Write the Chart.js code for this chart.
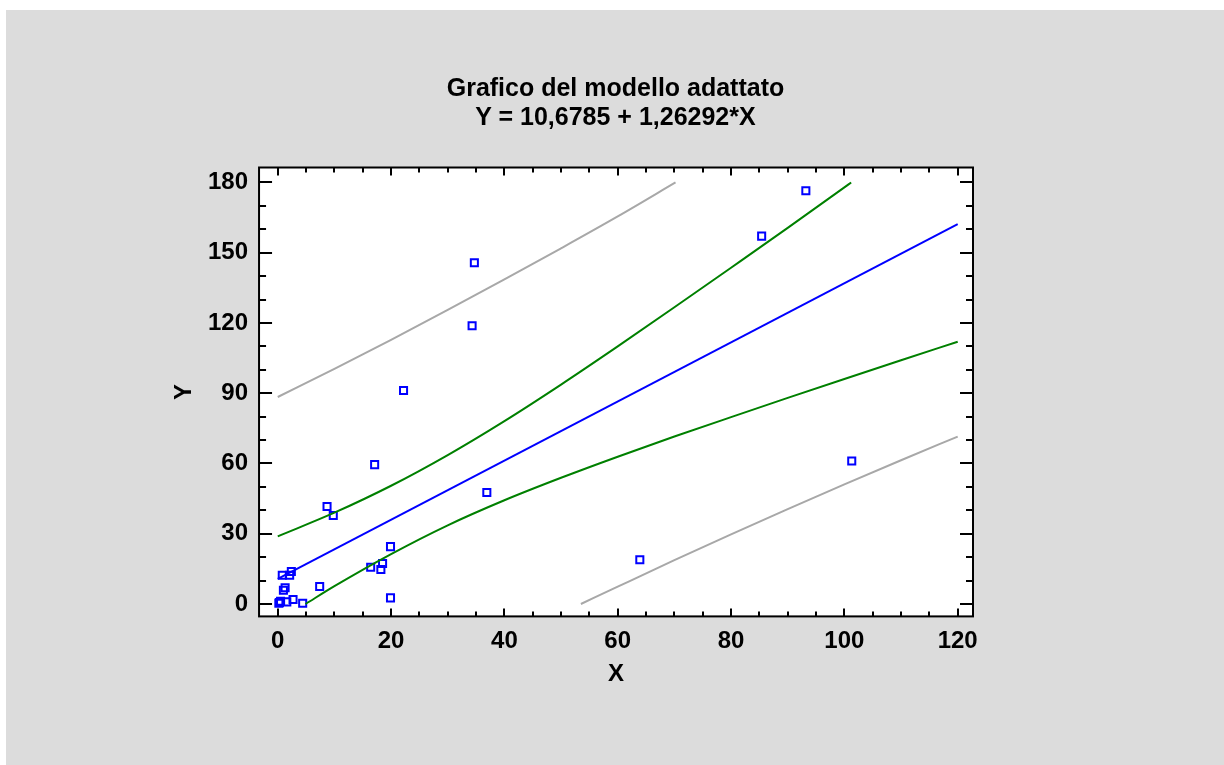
<!DOCTYPE html>
<html>
<head>
<meta charset="utf-8">
<script src="https://cdn.jsdelivr.net/npm/chart.js@4.4.1/dist/chart.umd.min.js"></script>
<style>
  html, body { margin: 0; padding: 0; background: #ffffff; }
  #wrap { position: relative; width: 1224px; height: 765px; }
  canvas { display: block; position: absolute; left: 0; top: 0; }
  .ttl { position: absolute; left: 115.5px; width: 1000px; text-align: center;
         font-family: 'Liberation Sans', Arial, Helvetica, sans-serif; font-weight: bold;
         font-size: 25px; line-height: 29px; color: #000; white-space: nowrap; }
</style>
</head>
<body>
<div id="wrap">
<canvas id="c" width="1224" height="765"></canvas>
<div class="ttl" id="t1" style="top:72.5px"></div>
<div class="ttl" id="t2" style="top:101.5px"></div>
</div>
<script>
// ---- Data ----
const titleLines = ['Grafico del modello adattato', 'Y = 10,6785 + 1,26292*X'];
const xTitle = 'X';
const yTitle = 'Y';
const xTickValues = [0, 20, 40, 60, 80, 100, 120];
const yTickValues = [0, 30, 60, 90, 120, 150, 180];

// observed points
const obsX = [34.7, 34.3, 22.2, 17.1, 8.7, 9.8, 36.9, 19.9, 16.4, 18.2, 18.5, 19.9, 7.4, 4.4, 2.7, 1.6, 0.3, 0.2, 0.5, 1.0, 1.3, 0.8, 2.1, 2.4, 63.9, 85.4, 93.2, 101.3];
const obsY = [145.7, 118.8, 91.2, 59.5, 41.6, 37.8, 47.6, 24.5, 15.7, 14.7, 17.3, 2.6, 7.5, 0.3, 1.9, 0.9, 0.6, 0.3, 1.2, 5.9, 6.9, 12.3, 12.3, 13.9, 18.9, 157.1, 176.5, 61.1];

// fitted line
const fitX = [0, 120];
const fitY = [10.68, 162.23];

// confidence limits for the mean (green)
const confUpX = [0, 10, 20, 30, 40, 50, 60, 70, 80, 90, 100, 101.2];
const confUpY = [28.9, 39.0, 50.5, 63.6, 78.1, 93.7, 110.0, 126.7, 143.6, 160.6, 177.9, 180.0];
const confLoX = [4.9, 10, 20, 30, 40, 50, 60, 70, 80, 90, 100, 110, 120];
const confLoY = [0.0, 7.6, 21.3, 33.6, 44.3, 53.9, 62.9, 71.5, 79.8, 88.0, 96.1, 104.1, 112.0];

// prediction limits (grey)
const predUpX = [0, 10, 20, 30, 40, 50, 60, 70.2];
const predUpY = [88.4, 100.4, 112.8, 125.6, 138.6, 151.9, 165.5, 180.0];
const predLoX = [53.5, 60, 70, 80, 90, 100, 110, 120];
const predLoY = [0.0, 7.4, 18.7, 29.7, 40.5, 51.1, 61.4, 71.5];

const xMinorStep = 5;
const yMinorStep = 10;

document.getElementById('t1').textContent = titleLines[0];
document.getElementById('t2').textContent = titleLines[1];

// ---- helpers ----
const pts = (xs, ys) => xs.map((x, i) => ({ x: x, y: ys[i] }));
const FONT = "'Liberation Sans', Arial, Helvetica, sans-serif";

const lineDs = (xs, ys, color) => ({
  type: 'line',
  data: pts(xs, ys),
  borderColor: color,
  borderWidth: 2,
  pointRadius: 0,
  fill: false,
  tension: 0,
  cubicInterpolationMode: 'monotone'
});

const backgroundPlugin = {
  id: 'bg',
  beforeDraw(chart) {
    const ctx = chart.ctx;
    ctx.save();
    ctx.fillStyle = '#ffffff';
    ctx.fillRect(0, 0, chart.width, chart.height);
    ctx.fillStyle = '#dcdcdc';
    ctx.fillRect(6, 10, chart.width - 6, chart.height - 10);
    const a = chart.chartArea;
    ctx.fillStyle = '#ffffff';
    ctx.fillRect(a.left, a.top, a.right - a.left, a.bottom - a.top);
    ctx.restore();
  }
};

const framePlugin = {
  id: 'frame',
  afterDraw(chart) {
    const ctx = chart.ctx;
    const a = chart.chartArea;
    const xs = chart.scales.x, ys = chart.scales.y;
    ctx.save();
    ctx.strokeStyle = '#000';
    ctx.lineWidth = 2;
    ctx.lineCap = 'butt';
    ctx.beginPath();
    for (let v = Math.ceil(xs.min / xMinorStep) * xMinorStep; v <= xs.max; v += xMinorStep) {
      const major = xTickValues.includes(v);
      const len = major ? 8 : 5;
      const px = Math.round(xs.getPixelForValue(v));
      ctx.moveTo(px, a.bottom); ctx.lineTo(px, a.bottom - len);
      ctx.moveTo(px, a.top); ctx.lineTo(px, a.top + len);
    }
    for (let v = Math.ceil(ys.min / yMinorStep) * yMinorStep; v <= ys.max; v += yMinorStep) {
      const major = yTickValues.includes(v);
      const len = major ? 13 : 7;
      const py = Math.round(ys.getPixelForValue(v));
      ctx.moveTo(a.left, py); ctx.lineTo(a.left + len, py);
      ctx.moveTo(a.right, py); ctx.lineTo(a.right - len, py);
    }
    ctx.stroke();
    ctx.strokeRect(a.left, a.top, a.right - a.left, a.bottom - a.top);
    ctx.restore();
  }
};

new Chart(document.getElementById('c'), {
  type: 'scatter',
  data: {
    datasets: [
      lineDs(predUpX, predUpY, '#a8a8a8'),
      lineDs(predLoX, predLoY, '#a8a8a8'),
      lineDs(confUpX, confUpY, '#008000'),
      lineDs(confLoX, confLoY, '#008000'),
      lineDs(fitX, fitY, '#0000ff'),
      {
        type: 'scatter',
        data: pts(obsX, obsY),
        pointStyle: 'rect',
        pointRadius: 5,
        pointBorderWidth: 2,
        pointBorderColor: '#0000ff',
        pointBackgroundColor: 'rgba(0,0,0,0)',
        showLine: false
      }
    ]
  },
  options: {
    responsive: false,
    animation: false,
    devicePixelRatio: 1,
    layout: { padding: { left: 170, right: 251, top: 167.5, bottom: 76 } },
    plugins: {
      legend: { display: false },
      tooltip: { enabled: false },
      title: { display: false }
    },
    scales: {
      x: {
        type: 'linear',
        min: -3.3,
        max: 122.7,
        afterBuildTicks: (axis) => { axis.ticks = xTickValues.map(v => ({ value: v })); },
        grid: { display: false, drawTicks: false },
        border: { display: false },
        ticks: { color: '#000', padding: 11, maxRotation: 0, autoSkip: false,
                 font: { family: FONT, size: 24, weight: 'bold' } },
        title: { display: true, text: xTitle, color: '#000', padding: { top: -7, bottom: 0 },
                 font: { family: FONT, size: 24, weight: 'bold', lineHeight: 1.2 } }
      },
      y: {
        type: 'linear',
        min: -5.3,
        max: 186.4,
        afterBuildTicks: (axis) => { axis.ticks = yTickValues.map(v => ({ value: v })); },
        grid: { display: false, drawTicks: false },
        border: { display: false },
        ticks: { color: '#000', padding: 11, autoSkip: false,
                 font: { family: FONT, size: 24, weight: 'bold' } },
        title: { display: true, text: yTitle, color: '#000', padding: { top: 2, bottom: 1 },
                 font: { family: FONT, size: 24, weight: 'bold', lineHeight: 1.0 } }
      }
    }
  },
  plugins: [backgroundPlugin, framePlugin]
});
</script>
</body>
</html>
